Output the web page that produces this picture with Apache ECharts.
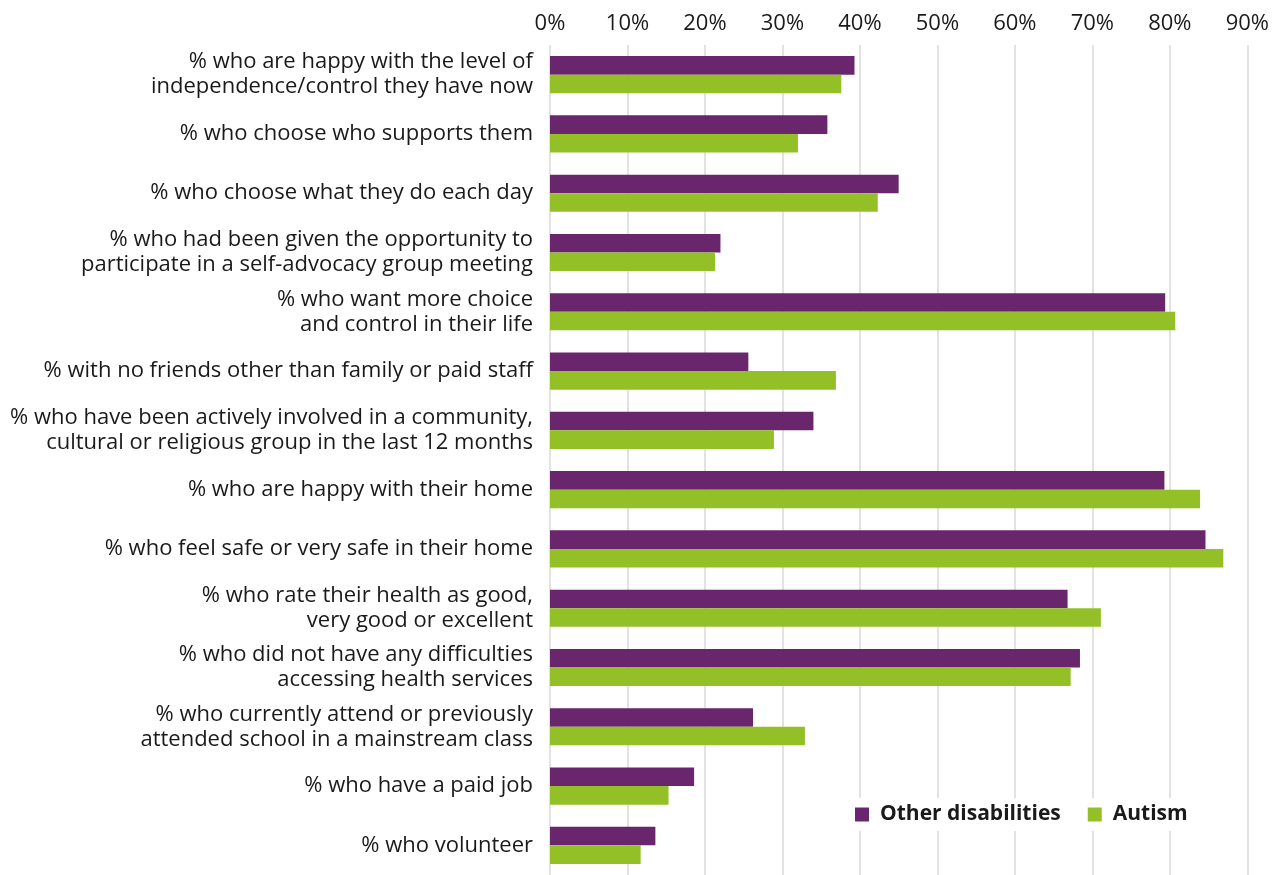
<!DOCTYPE html>
<html>
<head>
<meta charset="utf-8">
<script src="https://cdn.jsdelivr.net/npm/echarts@6/dist/echarts.min.js"></script>
<style>
html,body{margin:0;padding:0;background:#fff;}
#chart{width:1272px;height:875px;}
</style>
</head>
<body>
<div id="chart"></div>
<script>
const categories = [
  "% who are happy with the level of\nindependence/control they have now",
  "% who choose who supports them",
  "% who choose what they do each day",
  "% who had been given the opportunity to\nparticipate in a self-advocacy group meeting",
  "% who want more choice\nand control in their life",
  "% with no friends other than family or paid staff",
  "% who have been actively involved in a community,\ncultural or religious group in the last 12 months",
  "% who are happy with their home",
  "% who feel safe or very safe in their home",
  "% who rate their health as good,\nvery good or excellent",
  "% who did not have any difficulties\naccessing health services",
  "% who currently attend or previously\nattended school in a mainstream class",
  "% who have a paid job",
  "% who volunteer"
];
const seriesNames = ["Other disabilities", "Autism"];
const otherDisabilities = [39.3, 35.8, 45.0, 22.0, 79.4, 25.6, 34.0, 79.3, 84.6, 66.8, 68.4, 26.2, 18.6, 13.6];
const autism = [37.6, 32.0, 42.3, 21.3, 80.7, 36.9, 28.9, 83.9, 86.9, 71.1, 67.2, 32.9, 15.3, 11.7];
const xTicks = [0, 10, 20, 30, 40, 50, 60, 70, 80, 90];

const FONT = "Open Sans";
const chart = echarts.init(document.getElementById('chart'), null, {renderer: 'canvas'});
chart.setOption({
  backgroundColor: '#ffffff',
  animation: false,
  textStyle: {fontFamily: FONT},
  grid: {left: 550, right: 23, top: 45, bottom: -5, containLabel: false},
  legend: {
    data: seriesNames,
    left: 847, top: 798,
    itemWidth: 14, itemHeight: 14, itemGap: 27,
    icon: 'rect',
    backgroundColor: '#ffffff',
    padding: [6, 8, 6, 8],
    textStyle: {fontFamily: FONT, fontSize: 21, fontWeight: 'bold', color: '#1a1a1a', padding: [0, 0, 0, 6]}
  },
  xAxis: {
    type: 'value',
    position: 'top',
    min: xTicks[0], max: xTicks[xTicks.length - 1], interval: 10,
    axisLine: {show: false},
    axisTick: {show: false},
    axisLabel: {formatter: '{value}%', fontSize: 22, color: '#1a1a1a', margin: 10, fontFamily: FONT},
    splitLine: {show: true, lineStyle: {color: '#d9d9d9', width: 1.5}}
  },
  yAxis: {
    type: 'category',
    inverse: true,
    data: categories,
    axisLine: {show: false},
    axisTick: {show: false},
    axisLabel: {fontSize: 22, color: '#1a1a1a', margin: 17, lineHeight: 25, align: 'right', fontFamily: FONT}
  },
  series: [
    {
      name: seriesNames[0], type: 'bar', data: otherDisabilities,
      itemStyle: {color: '#6A266D'},
      barGap: '0%', barCategoryGap: '37.4%'
    },
    {
      name: seriesNames[1], type: 'bar', data: autism,
      itemStyle: {color: '#93C026'},
      barGap: '0%', barCategoryGap: '37.4%'
    }
  ]
});
</script>
</body>
</html>
